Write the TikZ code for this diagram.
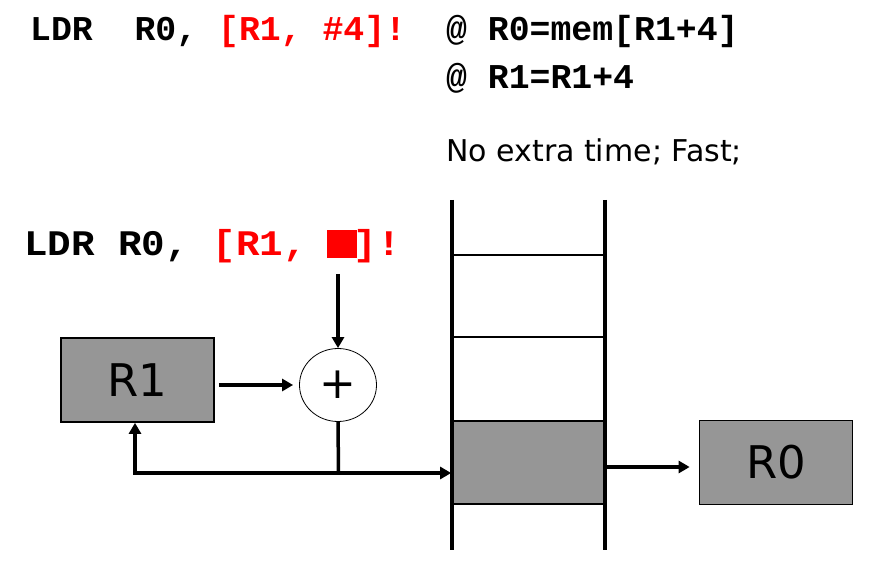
\documentclass[tikz,border=0pt]{standalone}
\usepackage{fontspec}
\setmainfont{DejaVu Sans}
\newfontfamily\codefont{Liberation Mono}
\usetikzlibrary{arrows.meta,shapes.geometric}
\definecolor{boxgray}{RGB}{150,150,150}
\definecolor{codered}{RGB}{255,0,0}
\tikzset{
  code/.style={inner sep=0pt, anchor=base west, font=\codefont\bfseries\fontsize{34.8}{40}\selectfont},
  note/.style={inner sep=0pt, anchor=base west, font=\fontsize{30}{36}\selectfont},
  regbox/.style={draw, line width=1.7pt, fill=boxgray, minimum width=153pt, minimum height=84pt, inner sep=0pt, font=\fontsize{45}{50}\selectfont},
  adder/.style={draw, ellipse, line width=0.8pt, minimum width=77pt, minimum height=73pt, inner sep=0pt, font=\fontsize{44}{48}\selectfont},
  cell/.style={draw, line width=1.7pt, minimum width=153pt, inner sep=0pt},
  memline/.style={line width=3.5pt},
  wire/.style={line width=3.5pt},
  arr/.style={line width=3.5pt, -{Triangle[length=11pt,width=12pt]}},
}
\begin{document}
\begin{tikzpicture}[x=1pt,y=-1pt]
\useasboundingbox (0,0) rectangle (884,580);
% texts
\node[code] (ins) at (30,41) {LDR~~R0, \textcolor{codered}{[R1, \#4]!}};
\node[code] (c1) at (446,41) {@ R0=mem[R1+4]};
\node[code] (c2) at (446,89) {@ R1=R1+4};
\node[note] (fast) at (446,162) {No extra time; Fast;};
\node[code, font=\codefont\bfseries\fontsize{36}{40}\selectfont] (ins2) at (24,256)
  {\scalebox{1.09}[1]{LDR R0, \textcolor{codered}{[R1, \makebox[0.6em]{\rule[-2pt]{27.5pt}{28pt}}]!}}};
% memory
\node[cell, minimum height=82pt] (cellA) at (528.5,296) {};
\node[cell, minimum height=84pt] (cellB) at (528.5,379) {};
\node[cell, fill=boxgray, minimum height=83pt] (cellC) at (528.5,462.5) {};
\draw[memline] (452,200) -- (452,550);
\draw[memline] (605,200) -- (605,550);
% registers
\node[regbox] (R1) at (137.5,380) {R1};
\node[regbox] (R0) at (776,462.5) {R0};
\node[adder] (plus) at (338,385) {+};
% connectors
\coordinate (imm) at (338,274);
\coordinate (j) at (338.5,473);
\coordinate (corner) at (135,473);
\coordinate (o1) at (605,467);
\draw[arr] (imm) -- (plus.north);
\draw[arr, shorten <=4pt, shorten >=6pt] (R1.east |- plus.west) -- (plus.west);
\draw[wire] (plus.south) -- (j);
\draw[arr] (j) -- (j -| cellC.west);
\draw[arr] (j) -- (corner) -- (corner |- R1.south);
\draw[arr, shorten >=9pt] (o1) -- (o1 -| R0.west);
\end{tikzpicture}
\end{document}
